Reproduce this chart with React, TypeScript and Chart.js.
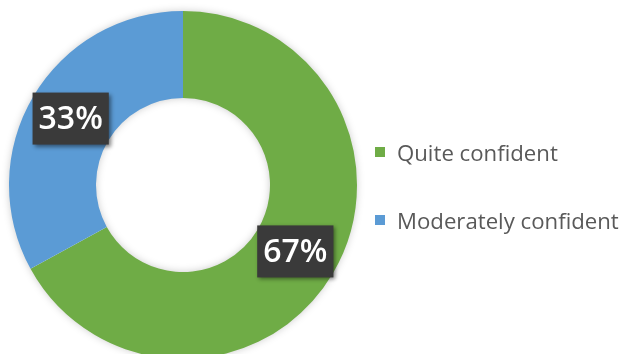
import React, { useEffect, useRef } from "react";
import { Chart, registerables } from "chart.js";

Chart.register(...registerables);

const categories = ["Quite confident", "Moderately confident"];
const values = [67, 33];
const colors = ["#6FAC46", "#5B9BD5"];
const valueLabels = ["67%", "33%"];

const ringShadowPlugin = {
  id: "ringShadow",
  beforeDatasetsDraw(chart: any) {
    const meta = chart.getDatasetMeta(0);
    const arc = meta.data[0];
    if (!arc) return;
    const { x, y, outerRadius, innerRadius } = arc.getProps(["x", "y", "outerRadius", "innerRadius"], true);
    const ctx = chart.ctx;
    ctx.save();
    ctx.shadowColor = "rgba(0,0,0,0.25)";
    ctx.shadowBlur = 8;
    ctx.fillStyle = "#ffffff";
    ctx.beginPath();
    ctx.arc(x, y, outerRadius - 1, 0, Math.PI * 2);
    ctx.arc(x, y, innerRadius + 1, 0, Math.PI * 2, true);
    ctx.fill("evenodd");
    ctx.restore();
  },
};

const boxLabelPlugin = {
  id: "boxLabels",
  afterDatasetsDraw(chart: any) {
    const ctx = chart.ctx;
    const meta = chart.getDatasetMeta(0);
    ctx.save();
    ctx.font = "600 32px 'Open Sans'";
    meta.data.forEach((arc: any, i: number) => {
      const { x, y } = arc.tooltipPosition(true);
      const text = valueLabels[i];
      const w = ctx.measureText(text).width + 12;
      const h = 52;
      ctx.save();
      ctx.shadowColor = "rgba(0,0,0,0.45)";
      ctx.shadowBlur = 4;
      ctx.shadowOffsetX = 2;
      ctx.shadowOffsetY = 2;
      ctx.fillStyle = "#3A3A3A";
      ctx.fillRect(x - w / 2, y - h / 2, w, h);
      ctx.restore();
      ctx.fillStyle = "#FFFFFF";
      ctx.textAlign = "center";
      ctx.textBaseline = "middle";
      ctx.fillText(text, x, y + 1);
    });
    ctx.restore();
  },
};

export default function App() {
  const ref = useRef<HTMLCanvasElement | null>(null);

  useEffect(() => {
    if (!ref.current) return;
    const chart = new Chart(ref.current, {
      type: "doughnut",
      data: {
        labels: categories,
        datasets: [
          {
            data: values,
            backgroundColor: colors,
            borderWidth: 0,
          },
        ],
      },
      options: {
        animation: false,
        responsive: false,
        maintainAspectRatio: false,
        devicePixelRatio: 1,
        cutout: "50%",
        layout: { padding: { left: 9, right: 266, top: 11, bottom: 11 } },
        plugins: {
          legend: { display: false },
          tooltip: { enabled: false },
        },
      },
      plugins: [ringShadowPlugin, boxLabelPlugin],
    });
    return () => chart.destroy();
  }, []);

  const legendTops = [140, 208];

  return (
    <div
      style={{
        position: "fixed",
        left: 0,
        top: 0,
        width: 623,
        height: 354,
        overflow: "hidden",
        background: "#ffffff",
      }}
    >
      <canvas ref={ref} width={623} height={370} style={{ width: 623, height: 370, display: "block" }} />
      {categories.map((c, i) => (
        <div
          key={c}
          style={{
            position: "absolute",
            left: 375,
            top: legendTops[i],
            height: 24,
            display: "flex",
            alignItems: "center",
            fontFamily: "'Open Sans', sans-serif",
            fontSize: 22.2,
            color: "#595959",
            whiteSpace: "nowrap",
          }}
        >
          <span style={{ display: "inline-block", width: 10, height: 10, background: colors[i], marginRight: 12 }} />
          <span>{c}</span>
        </div>
      ))}
    </div>
  );
}
